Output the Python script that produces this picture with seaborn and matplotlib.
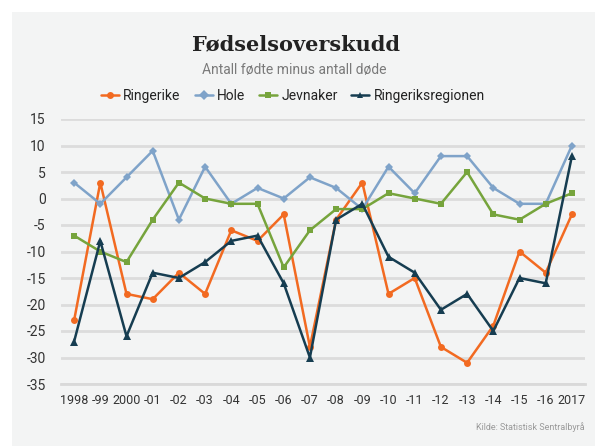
import matplotlib
matplotlib.use("Agg")
import matplotlib.pyplot as plt
import matplotlib.patches as mpatches
from matplotlib.ticker import FixedLocator
import seaborn as sns
import pandas as pd

years = list(range(1998, 2018))
tick_labels = ["1998", "-99", "2000", "-01", "-02", "-03", "-04", "-05", "-06", "-07",
               "-08", "-09", "-10", "-11", "-12", "-13", "-14", "-15", "-16", "2017"]
ringerike = [-23, 3, -18, -19, -14, -18, -6, -8, -3, -28, -4, 3, -18, -15, -28, -31, -24, -10, -14, -3]
hole = [3, -1, 4, 9, -4, 6, -1, 2, 0, 4, 2, -2, 6, 1, 8, 8, 2, -1, -1, 10]
jevnaker = [-7, -10, -12, -4, 3, 0, -1, -1, -13, -6, -2, -2, 1, 0, -1, 5, -3, -4, -1, 1]
regionen = [-27, -8, -26, -14, -15, -12, -8, -7, -16, -30, -4, -1, -11, -14, -21, -18, -25, -15, -16, 8]
series_names = ["Ringerike", "Hole", "Jevnaker", "Ringeriksregionen"]

frames = []
for name, vals in zip(series_names, [ringerike, hole, jevnaker, regionen]):
    frames.append(pd.DataFrame({"year": years, "value": vals, "series": name}))
df = pd.concat(frames, ignore_index=True)

palette = {"Ringerike": "#f26a21", "Hole": "#7fa3c9", "Jevnaker": "#76a43c", "Ringeriksregionen": "#163d51"}
markers = {"Ringerike": "o", "Hole": "D", "Jevnaker": "s", "Ringeriksregionen": "^"}
msizes = {"Ringerike": 5, "Hole": 4.5, "Jevnaker": 5, "Ringeriksregionen": 6}

sns.set_theme(style="white")
plt.rcParams["font.family"] = ["Roboto", "DejaVu Sans"]

bg = "#f3f4f4"
fig = plt.figure(figsize=(5.95, 4.46), dpi=100, facecolor="white")
fig.patches.append(mpatches.Rectangle((12 / 595, 0), 1 - 12 / 595, 1 - 12 / 446,
                                      transform=fig.transFigure, facecolor=bg,
                                      edgecolor="none", zorder=-10))
ax = fig.add_axes([61 / 595, 1 - 384 / 446, (585 - 61) / 595, (384 - 119) / 446])
ax.set_facecolor("none")
ax.set_zorder(1)

sns.lineplot(data=df, x="year", y="value", hue="series", style="series",
             hue_order=series_names, style_order=series_names,
             palette=palette, markers=markers, dashes=False,
             linewidth=1.8, markersize=5, markeredgewidth=0,
             ax=ax, legend=True, zorder=3)
for line, name in zip(ax.lines[:4], series_names):
    line.set_markersize(msizes[name])

ax.set_xlim(1997.5, 2017.5)
ax.set_ylim(-35, 15)
ax.set_yticks(list(range(-35, 16, 5)))
ax.set_yticklabels([str(v) for v in range(-35, 16, 5)])
ax.set_xticks(years)
ax.set_xticklabels(tick_labels)
ax.xaxis.set_minor_locator(FixedLocator([y - 0.5 for y in years] + [2017.5]))
ax.tick_params(axis="x", which="major", length=0, pad=7, labelsize=9, colors="#333333")
ax.tick_params(axis="x", which="minor", length=4, width=1.5, color="#d9d9d9")
ax.tick_params(axis="y", length=0, pad=11, labelsize=10, colors="#333333")
ax.grid(axis="y", color="#dcdcdc", linewidth=2.0, zorder=1)
ax.set_axisbelow(True)
for s in ["top", "right", "left"]:
    ax.spines[s].set_visible(False)
ax.spines["bottom"].set_color("#d9d9d9")
ax.spines["bottom"].set_linewidth(2.0)
ax.set_xlabel("")
ax.set_ylabel("")

handles, labels = ax.get_legend_handles_labels()
ax.legend_.remove()
fig.legend(handles, labels, loc="center", bbox_to_anchor=(293 / 595, 1 - 96 / 446),
           ncol=4, frameon=False, fontsize=10, handlelength=1.3,
           handletextpad=0.3, columnspacing=1.0, labelcolor="#222222")

fig.text(296 / 595, 1 - 44 / 446, "Fødselsoverskudd", ha="center", va="center",
         fontsize=15, fontweight="bold", family=["DejaVu Serif"], color="#222222")
fig.text(294 / 595, 1 - 70 / 446, "Antall fødte minus antall døde", ha="center",
         va="center", fontsize=10, color="#7a7a7a")
fig.text(585 / 595, 1 - 427 / 446, "Kilde: Statistisk Sentralbyrå", ha="right",
         va="center", fontsize=6.5, color="#9a9a9a")

fig.savefig("out.png", dpi=100, facecolor=fig.get_facecolor())
